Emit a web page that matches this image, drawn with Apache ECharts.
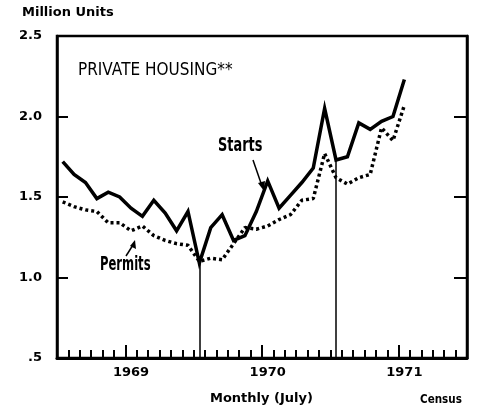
<!DOCTYPE html>
<html>
<head>
<meta charset="utf-8">
<script src="https://cdn.jsdelivr.net/npm/echarts@6/dist/echarts.min.js"></script>
<style>
  html, body { margin: 0; padding: 0; background: #fff; }
  #chart { width: 479px; height: 409px; }
</style>
</head>
<body>
<div id="chart"></div>
<script>
// months Jan 1969 .. Dec 1971, year label shown at July
const years = ['1969', '1970', '1971'];
const months = [];
years.forEach(y => { for (let m = 1; m <= 12; m++) months.push(y + '-' + (m < 10 ? '0' + m : m)); });

// million units, Jan 1969 .. Jul 1971
const starts = [
  1.72, 1.64, 1.59, 1.49, 1.53, 1.50, 1.43, 1.38, 1.48, 1.40, 1.29, 1.41,
  1.09, 1.31, 1.39, 1.23, 1.26, 1.41, 1.60, 1.43, 1.51, 1.59, 1.68, 2.05,
  1.73, 1.75, 1.96, 1.92, 1.97, 2.00, 2.23
];
const permits = [
  1.47, 1.44, 1.42, 1.41, 1.34, 1.34, 1.29, 1.32, 1.26, 1.23, 1.21, 1.20,
  1.10, 1.12, 1.11, 1.21, 1.31, 1.30, 1.32, 1.36, 1.39, 1.48, 1.49, 1.77,
  1.62, 1.58, 1.62, 1.64, 1.93, 1.85, 2.07
];
const yTicks = [0.5, 1.0, 1.5, 2.0, 2.5];
// year dividers: month index and how high the rule reaches
const dividerMonths = [12, 24];
const dividerTops = [1.13, 1.75];

const pad = arr => arr.concat(new Array(months.length - arr.length).fill(null));
const bold = 'DejaVu Sans';

const chart = echarts.init(document.getElementById('chart'));

const option = {
  animation: false,
  grid: {
    left: 57, right: 12, top: 36, bottom: 51,
    show: true, borderColor: '#000', borderWidth: 2.5, backgroundColor: 'transparent'
  },
  xAxis: [
    {
      type: 'category',
      data: months,
      boundaryGap: true,
      axisLine: { onZero: false, lineStyle: { color: '#000', width: 3 } },
      axisTick: { show: true, inside: true, interval: 0, length: 8, lineStyle: { color: '#000', width: 2 } },
      axisLabel: {
        interval: (i) => i % 12 === 6,
        formatter: (v) => v.slice(0, 4),
        color: '#000', fontFamily: bold, fontWeight: 'bold', fontSize: 13, margin: 8
      },
      splitLine: { show: false }
    },
    {
      type: 'category',
      data: months,
      position: 'bottom',
      boundaryGap: true,
      axisLine: { show: false, onZero: false },
      axisTick: { show: true, inside: true, length: 13, interval: (i) => i % 12 === 6, lineStyle: { color: '#000', width: 2 } },
      axisLabel: { show: false },
      splitLine: { show: false }
    }
  ],
  yAxis: [
    {
      type: 'value', min: 0.5, max: 2.5, interval: 0.5,
      axisLine: { show: true, lineStyle: { color: '#000', width: 2.5 } },
      axisTick: { show: true, inside: true, length: 11, lineStyle: { color: '#000', width: 2 } },
      axisLabel: {
        formatter: (v) => v === 0.5 ? '.5' : v.toFixed(1),
        color: '#000', fontFamily: bold, fontWeight: 'bold', fontSize: 13, margin: 15
      },
      splitLine: { show: false }
    },
    {
      type: 'value', min: 0.5, max: 2.5, interval: 0.5, position: 'right',
      axisLine: { show: true, lineStyle: { color: '#000', width: 2.5 } },
      axisTick: { show: true, inside: true, length: 13, lineStyle: { color: '#000', width: 2 } },
      axisLabel: { show: false },
      splitLine: { show: false }
    }
  ],
  series: [
    {
      name: 'Permits',
      type: 'line',
      data: pad(permits),
      showSymbol: false,
      lineStyle: { color: '#000', width: 3.5, type: [3, 3], cap: 'butt' },
      z: 3
    },
    {
      name: 'Starts',
      type: 'line',
      data: pad(starts),
      showSymbol: false,
      lineStyle: { color: '#000', width: 3.5, join: 'miter' },
      markLine: {
        silent: true,
        symbol: 'none',
        label: { show: false },
        lineStyle: { color: '#000', width: 1.5, type: 'solid' },
        data: dividerMonths.map((m, k) => [
          { coord: [m, yTicks[0]] },
          { coord: [m, dividerTops[k]] }
        ])
      },
      z: 4
    }
  ],
  graphic: [
    { type: 'text', left: 22, top: 6, style: { text: 'Million Units', font: 'bold 13px ' + bold, fill: '#000' } },
    { type: 'text', x: 78, y: 61, scaleX: 0.85, style: { text: 'PRIVATE HOUSING**', font: '18px ' + bold, fill: '#000' } },
    { type: 'text', x: 218, y: 137, scaleX: 0.68, style: { text: 'Starts', font: 'bold 19px ' + bold, fill: '#000' } },
    { type: 'line', shape: { x1: 253, y1: 160, x2: 262, y2: 186 }, style: { stroke: '#000', lineWidth: 1.5 } },
    { type: 'polygon', shape: { points: [[264, 191], [258, 183], [265, 181]] }, style: { fill: '#000' } },
    { type: 'text', x: 100, y: 256, scaleX: 0.61, style: { text: 'Permits', font: 'bold 19px ' + bold, fill: '#000' } },
    { type: 'line', shape: { x1: 126, y1: 256, x2: 133, y2: 245 }, style: { stroke: '#000', lineWidth: 1.5 } },
    { type: 'polygon', shape: { points: [[135, 240], [130, 246], [136, 249]] }, style: { fill: '#000' } },
    { type: 'text', left: 210, top: 392, style: { text: 'Monthly (July)', font: 'bold 13px ' + bold, fill: '#000' } },
    { type: 'text', x: 420, y: 393, scaleX: 0.8, style: { text: 'Census', font: 'bold 13px ' + bold, fill: '#000' } }
  ]
};

chart.setOption(option);
</script>
</body>
</html>
